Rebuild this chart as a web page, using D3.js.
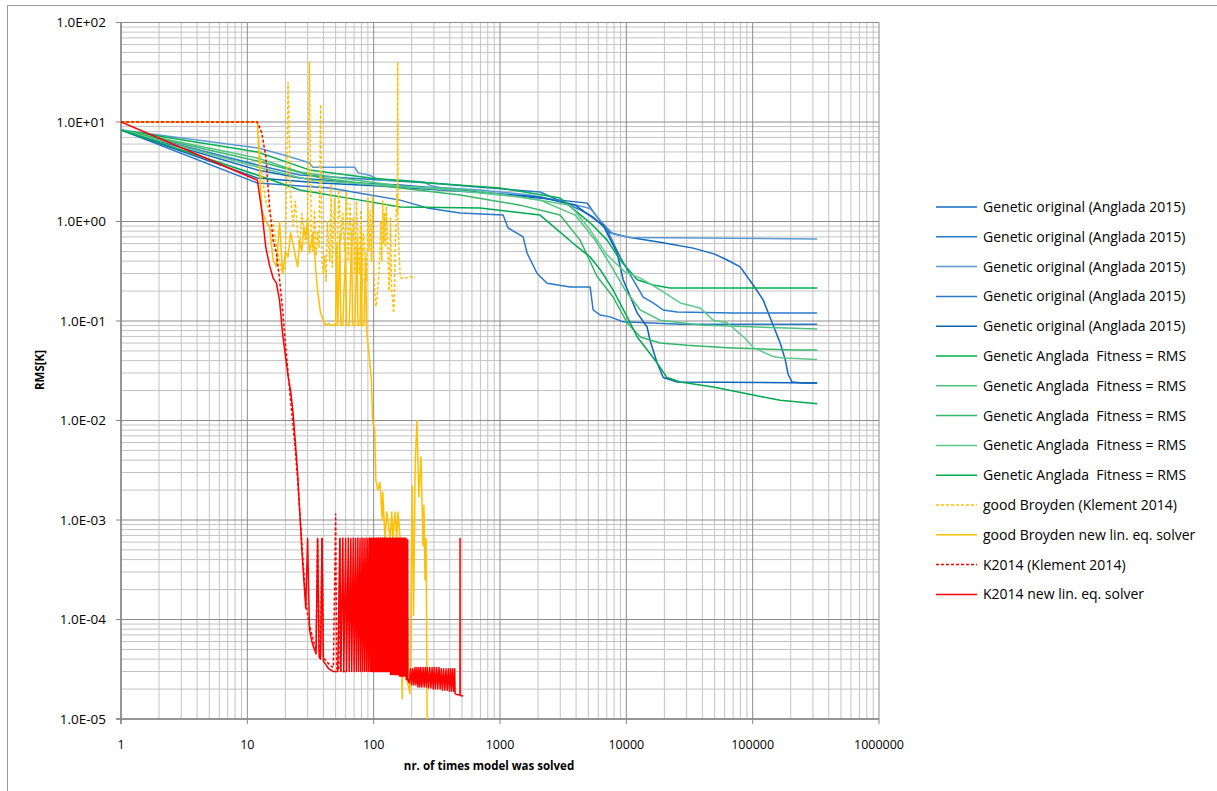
<!DOCTYPE html>
<html>
<head>
<meta charset="utf-8">
<script src="https://cdn.jsdelivr.net/npm/d3@7"></script>
<style>
  body { margin: 0; background: #fff; }
  text { font-family: "Open Sans", sans-serif; fill: #000; }
</style>
</head>
<body>
<svg id="chart" width="1217" height="791"></svg>
<script>
// tick values / labels
let xTicks = [1, 10, 100, 1000, 10000, 100000, 1000000];
let xTickLabels = ["1", "10", "100", "1000", "10000", "100000", "1000000"];
let yTicks = [1e2, 1e1, 1e0, 1e-1, 1e-2, 1e-3, 1e-4, 1e-5];
let yTickLabels = ["1.0E+02", "1.0E+01", "1.0E+00", "1.0E-01", "1.0E-02", "1.0E-03", "1.0E-04", "1.0E-05"];

let seriesLabels = [
  "Genetic original (Anglada 2015)", "Genetic original (Anglada 2015)", "Genetic original (Anglada 2015)",
  "Genetic original (Anglada 2015)", "Genetic original (Anglada 2015)",
  "Genetic Anglada  Fitness = RMS", "Genetic Anglada  Fitness = RMS", "Genetic Anglada  Fitness = RMS",
  "Genetic Anglada  Fitness = RMS", "Genetic Anglada  Fitness = RMS",
  "good Broyden (Klement 2014)", "good Broyden new lin. eq. solver",
  "K2014 (Klement 2014)", "K2014 new lin. eq. solver"
];

// [nr. of times model was solved, RMS]
let geneticOriginal1 = [[1,8.3],[12,3.3],[26,2.74],[71,2.44],[162,2.33],[483,2.07],[1058,1.85],[2990,1.64],[4900,1.53],[5870,1.11],[7450,0.77],[10150,0.70],[18500,0.62],[33800,0.54],[50000,0.47],[62900,0.41],[79600,0.35],[101000,0.23],[121000,0.163],[145000,0.091],[165000,0.06],[181000,0.041],[191000,0.029],[205000,0.0244],[251000,0.0238],[324000,0.0238]];
let geneticOriginal2 = [[1,8.3],[12,3.7],[26,2.93],[112,2.61],[280,2.44],[659,2.22],[2076,1.98],[4306,1.31],[5460,1.11],[7050,0.82],[8930,0.44],[10150,0.33],[12200,0.22],[13600,0.174],[16300,0.152],[19600,0.129],[25300,0.123],[70100,0.12],[324000,0.12]];
let geneticOriginal3 = [[1,8.3],[12,5.5],[20,4.6],[31,3.9],[33,3.5],[71,3.5],[75,3.1],[94,2.9],[110,2.6],[162,2.6],[250,2.5],[280,2.3],[336,2.2],[695,2.07],[1730,1.85],[2990,1.6],[5170,1.35],[6550,0.95],[7860,0.75],[10700,0.69],[324000,0.667]];
let geneticOriginal4 = [[1,8.3],[12,2.44],[45,2.17],[162,1.64],[265,1.37],[483,1.22],[1058,1.16],[1159,0.86],[1524,0.70],[1640,0.48],[1967,0.30],[2360,0.24],[3590,0.22],[5170,0.22],[5460,0.129],[6200,0.115],[7450,0.11],[9440,0.098],[26700,0.093],[324000,0.093]];
let geneticOriginal5 = [[1,8.3],[12,2.74],[38,2.44],[112,2.27],[336,2.07],[835,1.93],[2076,1.76],[3935,1.46],[6550,0.92],[8460,0.48],[9440,0.26],[12200,0.12],[14600,0.087],[15400,0.064],[17500,0.038],[19600,0.027],[25300,0.0244],[324000,0.0238]];

let geneticRms1 = [[1,8.3],[12,5.0],[31,3.3],[94,2.74],[280,2.44],[1000,2.17],[2990,1.72],[5170,0.97],[7050,0.65],[8930,0.41],[12200,0.26],[16300,0.23],[22200,0.215],[324000,0.215]];
let geneticRms2 = [[1,8.3],[12,4.35],[26,3.14],[54,2.74],[162,2.27],[580,2.07],[2076,1.64],[3935,1.16],[5660,0.65],[7450,0.37],[9780,0.205],[12900,0.129],[18500,0.102],[38400,0.091],[324000,0.083]];
let geneticRms3 = [[1,8.3],[12,4.06],[38,2.74],[162,2.17],[483,1.85],[1441,1.46],[2990,1.16],[4306,0.65],[5870,0.28],[7860,0.174],[10150,0.096],[12900,0.069],[18500,0.06],[30300,0.057],[62900,0.054],[209000,0.051],[324000,0.051]];
let geneticRms4 = [[1,8.3],[12,3.53],[31,2.61],[112,2.33],[403,2.07],[1441,1.76],[3590,1.46],[5170,0.82],[7050,0.46],[9780,0.31],[12900,0.27],[18500,0.205],[26700,0.152],[38400,0.135],[48700,0.102],[62900,0.096],[90400,0.064],[101000,0.054],[145000,0.044],[174000,0.0425],[324000,0.041]];
let geneticRms5 = [[1,8.3],[12,2.93],[26,2.07],[78,1.64],[162,1.40],[695,1.37],[2076,1.16],[3935,0.58],[5170,0.44],[6200,0.33],[7860,0.205],[10150,0.11],[12200,0.069],[17500,0.038],[21000,0.027],[26700,0.0244],[48700,0.0217],[101000,0.018],[165000,0.016],[324000,0.0147]];

let broydenKlement = [[1,10],[12,10],[13,3.0],[14,1.6],[15,1.2],[16,0.95],[17,0.55],[18,0.4],[19,0.3],[20,0.35],[21,25],[22,1.9],[23,0.9],[24,1.6],[25,0.75],[26,0.55],[27,1.2],[28,0.85],[29,0.6],[30,0.95],[31,40],[32,0.8],[33,0.5],[34,1.3],[35,0.45],[36,0.8],[37,0.55],[38,15],[39,0.4],[40,0.3],[41,0.45],[42,0.25],[43,1.0],[44,0.6],[45,0.4],[46,2.3],[47,0.35],[48,0.8],[49,1.7],[50,0.5],[51,0.3],[53,2.1],[55,0.65],[57,1.2],[59,0.5],[61,2.0],[63,0.4],[65,1.5],[67,0.55],[69,1.1],[71,0.3],[73,1.6],[75,0.6],[77,0.3],[79,1.3],[81,0.2],[83,0.75],[86,0.45],[88,0.25],[90,1.7],[92,0.5],[94,1.3],[96,0.4],[98,1.8],[100,0.35],[102,0.2],[104,0.14],[106,0.16],[108,0.22],[110,0.3],[112,0.5],[114,1.0],[116,0.4],[118,1.6],[120,0.6],[122,1.2],[124,0.55],[126,1.5],[128,0.7],[130,0.45],[132,0.2],[134,0.3],[136,1.1],[138,0.25],[140,0.18],[142,0.15],[144,0.12],[146,0.2],[148,0.5],[150,0.9],[152,1.9],[154,1.2],[155,40],[156,0.9],[158,0.6],[160,0.4],[162,0.3],[164,0.27],[180,0.27],[195,0.28],[213,0.27]];

let broydenNew = [[1,10],[12,10],[13,1.3],[14,1.0],[15,0.88],[16,0.41],[17,0.35],[18,1.0],[19,0.3],[20,0.5],[21,0.44],[22,0.77],[23,0.6],[24,0.45],[25,0.35],[26,0.65],[27,0.5],[28,0.88],[29,0.7],[30,1.1],[31,0.48],[32,0.6],[33,0.77],[34,0.5],[35,0.3],[36,0.2],[38,0.12],[40,0.1],[42,0.09],[44,0.095],[46,0.09],[48,0.092],[50,0.09],[51,0.6],[52,0.09],[54,0.75],[55,0.09],[57,0.09],[60,0.6],[61,0.09],[64,0.09],[67,0.8],[68,0.09],[71,0.09],[74,0.7],[75,0.09],[78,0.09],[80,0.9],[81,0.09],[84,0.09],[86,0.45],[88,0.08],[90,0.06],[93,0.04],[96,0.025],[98,0.01],[102,0.008],[104,0.0025],[108,0.002],[112,0.0024],[117,0.001],[118,0.0019],[123,6.5e-4],[127,0.0012],[135,6.5e-4],[139,0.0012],[142,6.5e-4],[148,0.0012],[152,6.5e-4],[156,0.0012],[162,6.5e-4],[168,1.6e-5],[170,5.4e-5],[183,2.5e-5],[194,1.8e-5],[202,0.0022],[207,1.1e-4],[213,0.0035],[220,0.01],[228,0.0017],[237,0.0043],[246,5.5e-4],[250,0.0014],[255,2.5e-4],[260,6.5e-4],[265,1e-5]];

let k2014Klement = [[1,10],[12,10],[13,7.8],[14,4.5],[15,1.4],[16,0.65],[17,0.48],[18,0.26],[19,0.13],[20,0.06],[21,0.03],[22,0.016],[23,0.009],[24,0.005],[25,0.0025],[26,0.0012],[27,6e-4],[28,3e-4],[29,1.6e-4],[30,1.1e-4],[31,9e-5],[32,7.5e-5],[33,6.5e-5],[34,5.5e-5],[35,5e-5],[36,6.5e-4],[37,5e-5],[38,4.5e-5],[39,6.5e-4],[40,4.2e-5],[42,3.8e-5],[44,3.6e-5],[46,3.4e-5],[48,3.3e-5],[50,1.15e-3],[51,3.2e-5],[53,3.1e-5],[54,6.5e-4],[55,3e-5],[58,3e-5],[60,3e-5]];

let k2014New = [[1,10],[12,2.6],[13,1.3],[14,0.55],[15,0.36],[16,0.27],[17,0.24],[18,0.16],[19,0.075],[20,0.045],[21,0.028],[22,0.02],[23,0.012],[24,0.006],[25,0.003],[26,0.0012],[27,5e-4],[28,2.5e-4],[29,1.3e-4],[30,6.5e-4],[31,8e-5],[32,6.5e-5],[33,5.5e-5],[34,5e-5],[35,4.5e-5],[36,6.5e-4],[37,4.2e-5],[38,4e-5],[39,6.5e-4],[40,3.8e-5],[42,3.5e-5],[44,3.2e-5],[46,3.1e-5],[48,3e-5],[52,3e-5],
  [54,6.5e-4],[55,3e-5],[57,6.6e-4],[58,3e-5],[60,6.5e-4],[61,3e-5],[63,6.6e-4],[64,3e-5],[66,6.5e-4],[67,3e-5],[69,6.6e-4],[70,3e-5],[72,6.5e-4],[73,3e-5],[75,6.6e-4],[76,3e-5],[78,6.5e-4],[79,3e-5],[81,6.6e-4],[82,3e-5],[84,6.5e-4],[85,3e-5],[87,6.6e-4],[88,3e-5],[90,6.5e-4],[91,3e-5],[93,6.6e-4],[94,3e-5],
  [95,6.5e-4],[96,3e-5],[97,6.6e-4],[98,3e-5],[99,6.5e-4],[100,3e-5],[101,6.6e-4],[102,3e-5],[103,6.5e-4],[104,3e-5],[105,6.6e-4],[106,3e-5],[107,6.5e-4],[108,3e-5],[109,6.6e-4],[110,3e-5],[111,6.5e-4],[112,3e-5],[113,6.6e-4],[114,3e-5],[115,6.5e-4],[116,3e-5],[117,6.6e-4],[118,3e-5],[119,6.5e-4],[120,3e-5],[121,6.6e-4],[122,3e-5],[123,6.5e-4],[124,3e-5],[125,6.6e-4],[126,3e-5],[127,6.5e-4],[128,3e-5],[129,6.6e-4],[130,3e-5],
  [132,6.5e-4],[133,3e-5],[135,6.6e-4],[136,2.8e-5],[138,6.5e-4],[139,2.8e-5],[141,6.6e-4],[142,2.8e-5],[144,6.5e-4],[145,2.8e-5],[147,6.6e-4],[148,2.8e-5],[150,6.5e-4],[151,2.8e-5],[153,6.6e-4],[154,2.8e-5],[156,6.5e-4],[157,2.8e-5],[159,6.6e-4],[160,2.7e-5],[162,6.5e-4],[163,2.7e-5],[165,6.6e-4],[166,2.7e-5],[168,6.5e-4],[169,2.7e-5],[171,6.6e-4],[172,2.7e-5],[174,6.5e-4],[175,2.7e-5],[177,6.6e-4],[178,2.7e-5],[180,6.5e-4],[181,2.5e-5],[183,6.4e-4],[184,2.5e-5],[186,6.3e-4],[187,2.5e-5],
  [188,2.4e-5],[192,2.3e-5],[196,3.2e-5],[200,2.2e-5],[204,3.2e-5],[208,2.2e-5],[212,3.3e-5],[216,2.2e-5],[220,3.3e-5],[224,2.1e-5],[228,3.3e-5],[232,2.1e-5],[236,3.3e-5],[241,2.1e-5],[246,3.3e-5],[251,2.1e-5],[256,3.3e-5],[261,2.1e-5],[266,3.3e-5],[272,2.05e-5],[278,3.3e-5],[284,2.05e-5],[290,3.3e-5],[296,2.0e-5],[302,3.3e-5],[308,2.0e-5],[315,3.3e-5],[322,2.0e-5],[329,3.3e-5],[336,2.0e-5],[343,3.2e-5],[350,1.95e-5],[358,3.2e-5],[366,1.95e-5],[374,3.2e-5],[382,1.95e-5],[390,3.2e-5],[398,1.9e-5],[406,3.2e-5],[414,1.9e-5],[422,3.2e-5],[430,1.9e-5],[438,3.2e-5],[441,1.8e-5],[460,1.75e-5],[482,1.75e-5],[483,6.5e-4],[484,1.72e-5],[510,1.7e-5]];

let seriesData = [geneticOriginal1, geneticOriginal2, geneticOriginal3, geneticOriginal4, geneticOriginal5,
  geneticRms1, geneticRms2, geneticRms3, geneticRms4, geneticRms5,
  broydenKlement, broydenNew, k2014Klement, k2014New];

// styles
let seriesColors = ["#1468C0", "#2B7BCC", "#5B9BD5", "#2A78C8", "#0B64BA",
  "#00B050", "#4CC47E", "#34B868", "#5CC98A", "#00A94F",
  "#FFC000", "#FFC000", "#FF0000", "#FF0000"];
let seriesDash = [null, null, null, null, null, null, null, null, null, null, "3,2", null, "3,2", null];

let svg = d3.select("#chart"),
    width = +svg.attr("width"),
    height = +svg.attr("height"),
    plot = { left: 121, right: 879, top: 22.5, bottom: 719 };

let xScale = d3.scaleLog().domain([1, 1e6]).range([plot.left, plot.right]);
let yScale = d3.scaleLog().domain([1e-5, 1e2]).range([plot.bottom, plot.top]);

// outer frame
svg.append("rect").attr("x", 7.5).attr("y", 5.5).attr("width", width).attr("height", height)
  .attr("fill", "#fff").attr("stroke", "#9a9a9a");

// grid
let xMinor = [], yMinor = [];
for (let e = 0; e < 6; e++) for (let k = 2; k <= 9; k++) xMinor.push(k * Math.pow(10, e));
for (let e = -5; e < 2; e++) for (let k = 2; k <= 9; k++) yMinor.push(k * Math.pow(10, e));

let grid = svg.append("g");
grid.selectAll(".xminor").data(xMinor).enter().append("line")
  .attr("x1", d => xScale(d)).attr("x2", d => xScale(d))
  .attr("y1", plot.top).attr("y2", plot.bottom)
  .attr("stroke", "#c3c3c3").attr("stroke-width", 1);
grid.selectAll(".yminor").data(yMinor).enter().append("line")
  .attr("x1", plot.left).attr("x2", plot.right)
  .attr("y1", d => yScale(d)).attr("y2", d => yScale(d))
  .attr("stroke", "#c3c3c3").attr("stroke-width", 1);
grid.selectAll(".xmajor").data(xTicks).enter().append("line")
  .attr("x1", d => xScale(d)).attr("x2", d => xScale(d))
  .attr("y1", plot.top).attr("y2", plot.bottom)
  .attr("stroke", "#8c8c8c").attr("stroke-width", 1);
grid.selectAll(".ymajor").data(yTicks).enter().append("line")
  .attr("x1", plot.left).attr("x2", plot.right)
  .attr("y1", d => yScale(d)).attr("y2", d => yScale(d))
  .attr("stroke", "#8c8c8c").attr("stroke-width", 1);

// axes
let axes = svg.append("g");
axes.append("line").attr("x1", plot.left).attr("x2", plot.left).attr("y1", plot.top).attr("y2", plot.bottom + 5)
  .attr("stroke", "#868686").attr("stroke-width", 1.5);
axes.append("line").attr("x1", plot.left - 5).attr("x2", plot.right).attr("y1", plot.bottom).attr("y2", plot.bottom)
  .attr("stroke", "#868686").attr("stroke-width", 1.5);
axes.selectAll(".ytick").data(yTicks).enter().append("line")
  .attr("x1", plot.left - 5).attr("x2", plot.left)
  .attr("y1", d => yScale(d)).attr("y2", d => yScale(d)).attr("stroke", "#868686");
axes.selectAll(".xtick").data(xTicks).enter().append("line")
  .attr("x1", d => xScale(d)).attr("x2", d => xScale(d))
  .attr("y1", plot.bottom).attr("y2", plot.bottom + 5).attr("stroke", "#868686");

axes.selectAll(".ylab").data(yTicks).enter().append("text")
  .attr("x", 106).attr("y", d => yScale(d)).attr("dy", "0.35em")
  .attr("text-anchor", "end").style("font-size", "13.5px")
  .text((d, i) => yTickLabels[i]);
axes.selectAll(".xlab").data(xTicks).enter().append("text")
  .attr("x", d => xScale(d)).attr("y", 749)
  .attr("text-anchor", "middle").style("font-size", "12.5px")
  .text((d, i) => xTickLabels[i]);

svg.append("text").attr("x", (plot.left + plot.right) / 2 - 11).attr("y", 770)
  .attr("text-anchor", "middle").style("font-size", "11.5px").style("font-weight", "bold")
  .text("nr. of times model was solved");
svg.append("text").attr("transform", "translate(44,370) rotate(-90)")
  .attr("text-anchor", "middle").style("font-size", "11.5px").style("font-weight", "bold")
  .text("RMS[K]");

// series
svg.append("clipPath").attr("id", "plotclip").append("rect")
  .attr("x", plot.left).attr("y", plot.top)
  .attr("width", plot.right - plot.left).attr("height", plot.bottom - plot.top);

let line = d3.line().x(d => xScale(d[0])).y(d => yScale(d[1]));
let lines = svg.append("g").attr("clip-path", "url(#plotclip)");
seriesData.forEach((data, i) => {
  lines.append("path")
    .attr("d", line(data))
    .attr("fill", "none")
    .attr("stroke", seriesColors[i])
    .attr("stroke-width", 1.5)
    .attr("stroke-linejoin", "round")
    .attr("stroke-dasharray", seriesDash[i]);
});

// legend
let legend = svg.append("g");
seriesLabels.forEach((label, i) => {
  let y = 207 + i * 29.8;
  legend.append("line").attr("x1", 936).attr("x2", 977).attr("y1", y).attr("y2", y)
    .attr("stroke", seriesColors[i]).attr("stroke-width", 1.5)
    .attr("stroke-dasharray", seriesDash[i]);
  legend.append("text").attr("x", 983).attr("y", y).attr("dy", "0.35em")
    .style("font-size", "14px").style("white-space", "pre").text(label);
});
</script>
</body>
</html>
